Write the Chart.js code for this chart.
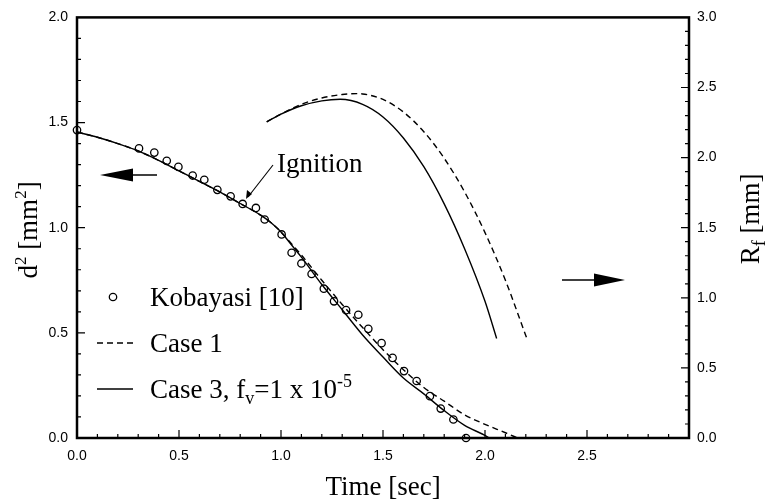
<!DOCTYPE html>
<html>
<head>
<meta charset="utf-8">
<script src="https://cdn.jsdelivr.net/npm/chart.js@4.4.0/dist/chart.umd.min.js"></script>
<style>
  html, body { margin: 0; padding: 0; background: #fff; }
  canvas { display: block; }
</style>
</head>
<body>
<canvas id="chart" width="768" height="503"></canvas>
<script>
// Kobayasi [10] measurements, d^2 in mm^2
const kobayasiTime = [0, 0.304, 0.379, 0.44, 0.497, 0.567, 0.624, 0.688, 0.753, 0.812, 0.877, 0.92, 1.003, 1.052,
    1.10, 1.15, 1.21, 1.26, 1.319, 1.379, 1.428, 1.493, 1.547, 1.603, 1.665, 1.730, 1.783, 1.845, 1.907];
const kobayasiD2 = [1.464, 1.377, 1.357, 1.318, 1.289, 1.248, 1.228, 1.18, 1.149, 1.113, 1.094, 1.039, 0.968, 0.881,
    0.83, 0.78, 0.71, 0.65, 0.608, 0.586, 0.519, 0.451, 0.381, 0.318, 0.271, 0.199, 0.140, 0.088, 0];

// Case 1: d^2 (left axis)
const case1Time = [0, 0.1, 0.2, 0.3, 0.4, 0.5, 0.6, 0.7, 0.8, 0.9, 0.95, 1.0, 1.05, 1.1, 1.2, 1.3, 1.4, 1.5, 1.6,
    1.7, 1.8, 1.9, 2.0, 2.1, 2.16];
const case1D2 = [1.455, 1.43, 1.40, 1.365, 1.32, 1.27, 1.22, 1.17, 1.115, 1.06, 1.025, 0.98, 0.925, 0.87, 0.75,
    0.635, 0.525, 0.42, 0.325, 0.24, 0.175, 0.11, 0.065, 0.025, 0];

// Case 3 (f_v = 1e-5): d^2 (left axis)
const case3Time = [0, 0.1, 0.2, 0.3, 0.4, 0.5, 0.6, 0.7, 0.8, 0.9, 0.95, 1.0, 1.05, 1.1, 1.2, 1.3, 1.4, 1.5, 1.6,
    1.7, 1.8, 1.9, 2.0, 2.02];
const case3D2 = [1.455, 1.43, 1.40, 1.365, 1.32, 1.27, 1.22, 1.17, 1.115, 1.06, 1.025, 0.98, 0.92, 0.86, 0.73,
    0.61, 0.49, 0.385, 0.285, 0.21, 0.13, 0.06, 0.012, 0];

// flame radius R_f in mm (right axis)
const case1RfTime = [0.93, 1.0, 1.1, 1.2, 1.3, 1.37, 1.4, 1.5, 1.6, 1.7, 1.8, 1.9, 2.0, 2.1, 2.205];
const case1Rf = [2.255, 2.31, 2.38, 2.425, 2.45, 2.456, 2.454, 2.415, 2.325, 2.185, 1.995, 1.755, 1.465, 1.125, 0.71];
const case3RfTime = [0.93, 1.0, 1.1, 1.2, 1.29, 1.4, 1.5, 1.6, 1.7, 1.8, 1.9, 2.0, 2.057];
const case3Rf = [2.255, 2.31, 2.37, 2.405, 2.416, 2.38, 2.29, 2.14, 1.935, 1.67, 1.35, 0.975, 0.71];

const toPoints = (xs, ys) => xs.map((x, i) => ({ x: x, y: ys[i] }));

const SERIF = '"Liberation Serif", "Times New Roman", serif';
const SANS = '"Liberation Sans", Arial, sans-serif';

// draws a run of text pieces (with sub/superscripts) left to right
function richText(ctx, parts, x, y, align) {
    const widths = parts.map(p => {
        ctx.font = p.size + 'px ' + SERIF;
        return ctx.measureText(p.text).width;
    });
    const total = widths.reduce((s, w) => s + w, 0);
    let cx = align === 'center' ? x - total / 2 : x;
    ctx.textAlign = 'left';
    ctx.textBaseline = 'alphabetic';
    parts.forEach((p, i) => {
        ctx.font = p.size + 'px ' + SERIF;
        ctx.fillText(p.text, cx, y + (p.dy || 0));
        cx += widths[i];
    });
}

function bigArrow(ctx, tipX, baseX, tailX, y) {
    ctx.lineWidth = 1.5;
    ctx.beginPath();
    ctx.moveTo(baseX, y);
    ctx.lineTo(tailX, y);
    ctx.stroke();
    ctx.beginPath();
    ctx.moveTo(tipX, y);
    ctx.lineTo(baseX, y - 6.5);
    ctx.lineTo(baseX, y + 6.5);
    ctx.closePath();
    ctx.fill();
}

// frame, inward ticks, axis titles, legend and annotations
const decorations = {
    id: 'decorations',
    afterDraw(chart) {
        const { ctx, chartArea: a, scales } = chart;
        ctx.save();
        ctx.strokeStyle = '#000';
        ctx.fillStyle = '#000';

        ctx.lineWidth = 2.5;
        ctx.strokeRect(a.left, a.top, a.right - a.left, a.bottom - a.top);

        ctx.lineWidth = 1.2;
        ctx.beginPath();
        for (let i = 1; i < 30; i++) {
            const x = scales.x.getPixelForValue(i / 10);
            const len = i % 5 === 0 ? 8 : 4;
            ctx.moveTo(x, a.bottom);
            ctx.lineTo(x, a.bottom - len);
        }
        for (let i = 1; i < 20; i++) {
            const y = scales.y.getPixelForValue(i / 10);
            const len = i % 5 === 0 ? 8 : 4;
            ctx.moveTo(a.left, y);
            ctx.lineTo(a.left + len, y);
        }
        for (let i = 1; i < 30; i++) {
            const y = scales.y2.getPixelForValue(i / 10);
            const len = i % 5 === 0 ? 8 : 4;
            ctx.moveTo(a.right, y);
            ctx.lineTo(a.right - len, y);
        }
        ctx.stroke();

        // axis titles
        richText(ctx, [{ text: 'Time [sec]', size: 27 }], (a.left + a.right) / 2, 495, 'center');

        ctx.save();
        ctx.translate(37, 230);
        ctx.rotate(-Math.PI / 2);
        richText(ctx, [
            { text: 'd', size: 27 },
            { text: '2', size: 17, dy: -11 },
            { text: ' [mm', size: 27 },
            { text: '2', size: 17, dy: -11 },
            { text: ']', size: 27 }
        ], 0, 0, 'center');
        ctx.restore();

        ctx.save();
        ctx.translate(759, 219);
        ctx.rotate(-Math.PI / 2);
        richText(ctx, [
            { text: 'R', size: 27 },
            { text: 'f', size: 18, dy: 6 },
            { text: ' [mm]', size: 27 }
        ], 0, 0, 'center');
        ctx.restore();

        // legend
        const rows = [297, 343, 389];
        ctx.lineWidth = 1.3;
        ctx.beginPath();
        ctx.arc(113, rows[0], 3.7, 0, Math.PI * 2);
        ctx.stroke();
        ctx.lineWidth = 1.4;
        ctx.setLineDash([6, 4]);
        ctx.beginPath();
        ctx.moveTo(97, rows[1]);
        ctx.lineTo(133, rows[1]);
        ctx.stroke();
        ctx.setLineDash([]);
        ctx.beginPath();
        ctx.moveTo(97, rows[2]);
        ctx.lineTo(133, rows[2]);
        ctx.stroke();
        richText(ctx, [{ text: 'Kobayasi [10]', size: 27 }], 150, rows[0] + 9);
        richText(ctx, [{ text: 'Case 1', size: 27 }], 150, rows[1] + 9);
        richText(ctx, [
            { text: 'Case 3, f', size: 27 },
            { text: 'v', size: 18, dy: 6 },
            { text: '=1 x 10', size: 27 },
            { text: '-5', size: 18, dy: -11 }
        ], 150, rows[2] + 9);

        // ignition marker
        richText(ctx, [{ text: 'Ignition', size: 27 }], 277, 172);
        ctx.lineWidth = 1.1;
        ctx.beginPath();
        ctx.moveTo(273, 165);
        ctx.lineTo(248, 197);
        ctx.stroke();
        ctx.beginPath();
        ctx.moveTo(246, 199);
        ctx.lineTo(247, 190);
        ctx.lineTo(252, 194);
        ctx.closePath();
        ctx.fill();

        // which axis each group of curves belongs to
        bigArrow(ctx, 100, 133, 157, 175);
        bigArrow(ctx, 625, 594, 562, 280);

        ctx.restore();
    }
};

const tickFont = { family: SANS, size: 14 };

document.addEventListener('DOMContentLoaded', () => {
    const ctx = document.getElementById('chart').getContext('2d');
    new Chart(ctx, {
        type: 'scatter',
        data: {
            datasets: [
                {
                    label: 'Kobayasi [10]',
                    data: toPoints(kobayasiTime, kobayasiD2),
                    yAxisID: 'y',
                    showLine: false,
                    pointStyle: 'circle',
                    pointRadius: 3.7,
                    pointBorderWidth: 1.3,
                    pointBorderColor: '#000',
                    pointBackgroundColor: 'rgba(0,0,0,0)',
                    clip: false
                },
                {
                    label: 'Case 1',
                    data: toPoints(case1Time, case1D2),
                    yAxisID: 'y',
                    showLine: true,
                    borderColor: '#000',
                    borderWidth: 1.4,
                    borderDash: [6, 4],
                    pointRadius: 0,
                    cubicInterpolationMode: 'monotone'
                },
                {
                    label: 'Case 3',
                    data: toPoints(case3Time, case3D2),
                    yAxisID: 'y',
                    showLine: true,
                    borderColor: '#000',
                    borderWidth: 1.4,
                    pointRadius: 0,
                    cubicInterpolationMode: 'monotone'
                },
                {
                    label: 'Case 1 Rf',
                    data: toPoints(case1RfTime, case1Rf),
                    yAxisID: 'y2',
                    showLine: true,
                    borderColor: '#000',
                    borderWidth: 1.4,
                    borderDash: [6, 4],
                    pointRadius: 0,
                    cubicInterpolationMode: 'monotone'
                },
                {
                    label: 'Case 3 Rf',
                    data: toPoints(case3RfTime, case3Rf),
                    yAxisID: 'y2',
                    showLine: true,
                    borderColor: '#000',
                    borderWidth: 1.4,
                    pointRadius: 0,
                    cubicInterpolationMode: 'monotone'
                }
            ]
        },
        options: {
            responsive: false,
            animation: false,
            devicePixelRatio: 1,
            layout: { padding: { top: 15, left: 0, right: 0, bottom: 0 } },
            plugins: {
                legend: { display: false },
                tooltip: { enabled: false }
            },
            scales: {
                x: {
                    type: 'linear',
                    min: 0,
                    max: 3,
                    afterFit(scale) { scale.height = 65; },
                    grid: { display: false, drawTicks: false },
                    border: { display: false },
                    ticks: {
                        stepSize: 0.5,
                        padding: 10,
                        maxRotation: 0,
                        autoSkip: false,
                        color: '#000',
                        font: tickFont,
                        callback: v => (v < 2.99 ? v.toFixed(1) : '')
                    }
                },
                y: {
                    type: 'linear',
                    position: 'left',
                    min: 0,
                    max: 2,
                    afterFit(scale) { scale.width = 77; },
                    grid: { display: false, drawTicks: false },
                    border: { display: false },
                    ticks: {
                        stepSize: 0.5,
                        padding: 9,
                        color: '#000',
                        font: tickFont,
                        callback: v => v.toFixed(1)
                    }
                },
                y2: {
                    type: 'linear',
                    position: 'right',
                    min: 0,
                    max: 3,
                    afterFit(scale) { scale.width = 79; },
                    grid: { display: false, drawTicks: false },
                    border: { display: false },
                    ticks: {
                        stepSize: 0.5,
                        padding: 8,
                        color: '#000',
                        font: tickFont,
                        callback: v => v.toFixed(1)
                    }
                }
            }
        },
        plugins: [decorations]
    });
});
</script>
</body>
</html>
